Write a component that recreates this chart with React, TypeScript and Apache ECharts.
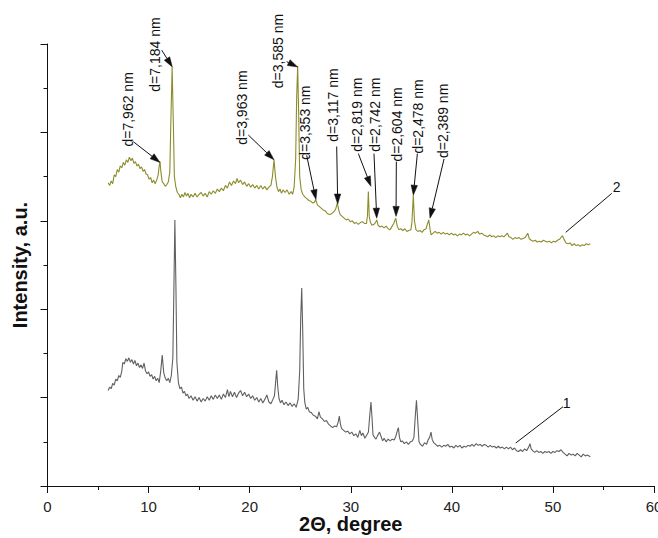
import React, { useEffect, useRef } from "react";
import * as echarts from "echarts";

// 2θ (degree), intensity (a.u.) — sample 1 (gray)
const curve1: [number, number][] = [
  [6.0, 1.08], [6.15, 1.12], [6.3, 1.1], [6.45, 1.16], [6.6, 1.14], [6.75, 1.21], [6.9, 1.19], [7.05, 1.25],
  [7.2, 1.23], [7.35, 1.3], [7.45, 1.4], [7.6, 1.38], [7.75, 1.44], [7.9, 1.41], [8.05, 1.45], [8.2, 1.4],
  [8.35, 1.43], [8.5, 1.38], [8.65, 1.42], [8.8, 1.36], [8.95, 1.39], [9.1, 1.34], [9.25, 1.37], [9.4, 1.33],
  [9.55, 1.39], [9.7, 1.3], [9.85, 1.27], [10.0, 1.29], [10.15, 1.24], [10.3, 1.26], [10.45, 1.21], [10.6, 1.24],
  [10.75, 1.19], [10.9, 1.22], [11.05, 1.17], [11.2, 1.3], [11.35, 1.48], [11.5, 1.28], [11.65, 1.22], [11.8, 1.19],
  [11.95, 1.22], [12.1, 1.17], [12.25, 1.25], [12.4, 1.45], [12.5, 2.2], [12.6, 3.01], [12.7, 2.3], [12.8, 1.4],
  [12.95, 1.17], [13.1, 1.1], [13.25, 1.12], [13.4, 1.05], [13.55, 1.07], [13.7, 1.02], [13.85, 1.04], [14.0, 0.99],
  [14.2, 1.02], [14.4, 0.97], [14.6, 1.01], [14.8, 0.96], [15.0, 1.0], [15.2, 0.95], [15.4, 0.99], [15.6, 0.96],
  [15.8, 1.01], [16.0, 0.97], [16.2, 1.02], [16.4, 0.98], [16.6, 1.03], [16.8, 0.99], [17.0, 1.03], [17.2, 0.98],
  [17.4, 1.04], [17.6, 1.0], [17.8, 1.09], [17.95, 1.01], [18.1, 1.07], [18.3, 1.01], [18.5, 1.06], [18.7, 1.0],
  [18.9, 1.05], [19.1, 1.08], [19.3, 1.02], [19.5, 1.06], [19.7, 1.01], [19.9, 1.04], [20.1, 0.99], [20.3, 1.02],
  [20.5, 0.97], [20.7, 1.0], [20.9, 0.95], [21.1, 0.99], [21.3, 0.94], [21.5, 0.98], [21.7, 1.03], [21.9, 0.95],
  [22.1, 0.93], [22.3, 0.98], [22.45, 1.02], [22.55, 1.15], [22.67, 1.31], [22.78, 1.12], [22.9, 0.99], [23.05, 0.94],
  [23.2, 0.97], [23.4, 0.92], [23.6, 0.95], [23.8, 0.91], [24.0, 0.94], [24.2, 0.9], [24.4, 0.93], [24.6, 0.89],
  [24.8, 0.98], [24.95, 1.3], [25.05, 1.9], [25.15, 2.24], [25.25, 1.75], [25.35, 1.1], [25.45, 0.95], [25.6, 0.87],
  [25.75, 0.89], [25.9, 0.84], [26.1, 0.83], [26.3, 0.8], [26.5, 0.79], [26.7, 0.76], [26.85, 0.84], [27.0, 0.78],
  [27.2, 0.76], [27.4, 0.73], [27.6, 0.74], [27.8, 0.7], [28.0, 0.68], [28.2, 0.66], [28.4, 0.68], [28.6, 0.67],
  [28.75, 0.72], [28.87, 0.79], [28.98, 0.7], [29.1, 0.65], [29.3, 0.63], [29.5, 0.61], [29.7, 0.62], [29.9, 0.59],
  [30.1, 0.61], [30.3, 0.57], [30.5, 0.59], [30.7, 0.55], [30.9, 0.63], [31.05, 0.57], [31.2, 0.6], [31.4, 0.54],
  [31.6, 0.58], [31.75, 0.61], [31.88, 0.8], [32.0, 0.95], [32.1, 0.78], [32.2, 0.58], [32.35, 0.55], [32.5, 0.53],
  [32.65, 0.57], [32.85, 0.61], [33.0, 0.56], [33.15, 0.51], [33.3, 0.54], [33.5, 0.5], [33.7, 0.53], [33.9, 0.51],
  [34.1, 0.53], [34.3, 0.52], [34.45, 0.56], [34.6, 0.62], [34.71, 0.66], [34.82, 0.55], [34.95, 0.5], [35.1, 0.51],
  [35.3, 0.48], [35.5, 0.5], [35.7, 0.47], [35.9, 0.5], [36.1, 0.51], [36.25, 0.55], [36.38, 0.78], [36.5, 0.97],
  [36.62, 0.75], [36.75, 0.5], [36.9, 0.47], [37.1, 0.45], [37.3, 0.49], [37.5, 0.47], [37.65, 0.52], [37.8, 0.55],
  [37.94, 0.61], [38.05, 0.53], [38.2, 0.49], [38.4, 0.47], [38.6, 0.45], [38.8, 0.46], [39.0, 0.44], [39.2, 0.46],
  [39.4, 0.45], [39.6, 0.47], [39.8, 0.44], [40.0, 0.45], [40.2, 0.43], [40.4, 0.46], [40.6, 0.44], [40.8, 0.46],
  [41.0, 0.43], [41.2, 0.45], [41.4, 0.44], [41.6, 0.46], [41.8, 0.45], [42.0, 0.47], [42.2, 0.45], [42.4, 0.48],
  [42.6, 0.46], [42.8, 0.47], [43.0, 0.45], [43.2, 0.47], [43.4, 0.46], [43.6, 0.44], [43.8, 0.46], [44.0, 0.44],
  [44.2, 0.45], [44.4, 0.43], [44.6, 0.45], [44.8, 0.43], [45.0, 0.44], [45.2, 0.42], [45.4, 0.44], [45.6, 0.42],
  [45.8, 0.44], [46.0, 0.41], [46.2, 0.43], [46.4, 0.4], [46.6, 0.39], [46.8, 0.41], [47.0, 0.39], [47.2, 0.42],
  [47.4, 0.4], [47.6, 0.44], [47.73, 0.48], [47.85, 0.42], [48.0, 0.4], [48.2, 0.38], [48.4, 0.4], [48.6, 0.38],
  [48.8, 0.39], [49.0, 0.37], [49.2, 0.39], [49.4, 0.38], [49.6, 0.39], [49.8, 0.37], [50.0, 0.39], [50.2, 0.38],
  [50.4, 0.4], [50.6, 0.39], [50.8, 0.41], [51.0, 0.38], [51.2, 0.36], [51.4, 0.34], [51.6, 0.37], [51.8, 0.35],
  [52.0, 0.36], [52.2, 0.34], [52.4, 0.37], [52.6, 0.35], [52.8, 0.33], [53.0, 0.36], [53.2, 0.34], [53.4, 0.35],
  [53.7, 0.33],
];

// 2θ (degree), intensity (a.u.) — sample 2 (olive)
const curve2: [number, number][] = [
  [6.0, 3.43], [6.15, 3.4], [6.3, 3.45], [6.45, 3.42], [6.6, 3.52], [6.75, 3.5], [6.9, 3.58], [7.05, 3.55],
  [7.2, 3.62], [7.35, 3.6], [7.5, 3.66], [7.65, 3.63], [7.8, 3.69], [7.95, 3.66], [8.1, 3.72], [8.25, 3.68],
  [8.4, 3.71], [8.55, 3.65], [8.7, 3.67], [8.85, 3.62], [9.0, 3.64], [9.15, 3.59], [9.3, 3.61], [9.45, 3.56],
  [9.6, 3.58], [9.75, 3.53], [9.9, 3.52], [10.05, 3.47], [10.2, 3.49], [10.35, 3.43], [10.5, 3.46], [10.65, 3.42],
  [10.8, 3.46], [10.95, 3.52], [11.05, 3.62], [11.13, 3.67], [11.22, 3.55], [11.35, 3.44], [11.5, 3.42], [11.65, 3.39],
  [11.8, 3.41], [11.95, 3.44], [12.1, 3.55], [12.2, 4.1], [12.33, 4.74], [12.45, 4.1], [12.55, 3.5], [12.7, 3.38],
  [12.85, 3.32], [13.0, 3.3], [13.15, 3.26], [13.3, 3.3], [13.45, 3.27], [13.6, 3.32], [13.75, 3.28], [13.9, 3.31],
  [14.05, 3.26], [14.2, 3.3], [14.4, 3.27], [14.6, 3.31], [14.8, 3.27], [15.0, 3.3], [15.2, 3.32], [15.4, 3.28],
  [15.6, 3.31], [15.8, 3.27], [16.0, 3.33], [16.2, 3.3], [16.4, 3.34], [16.6, 3.31], [16.8, 3.36], [17.0, 3.33],
  [17.2, 3.37], [17.4, 3.34], [17.6, 3.4], [17.8, 3.37], [18.0, 3.44], [18.2, 3.4], [18.4, 3.45], [18.6, 3.42],
  [18.75, 3.48], [18.9, 3.43], [19.1, 3.46], [19.3, 3.41], [19.5, 3.44], [19.7, 3.39], [19.9, 3.42], [20.1, 3.38],
  [20.3, 3.41], [20.5, 3.37], [20.7, 3.4], [20.9, 3.36], [21.1, 3.4], [21.3, 3.36], [21.5, 3.39], [21.7, 3.35],
  [21.9, 3.38], [22.1, 3.4], [22.25, 3.5], [22.41, 3.69], [22.55, 3.5], [22.7, 3.38], [22.85, 3.33], [23.0, 3.36],
  [23.15, 3.31], [23.3, 3.35], [23.5, 3.32], [23.7, 3.35], [23.9, 3.3], [24.1, 3.33], [24.25, 3.3], [24.4, 3.38],
  [24.55, 3.7], [24.65, 4.4], [24.75, 4.75], [24.85, 4.2], [24.95, 3.5], [25.1, 3.35], [25.25, 3.3], [25.45, 3.27],
  [25.65, 3.25], [25.85, 3.23], [26.05, 3.22], [26.25, 3.2], [26.4, 3.21], [26.53, 3.24], [26.7, 3.18], [26.9, 3.16],
  [27.1, 3.14], [27.3, 3.12], [27.5, 3.11], [27.7, 3.08], [27.9, 3.07], [28.1, 3.08], [28.3, 3.1], [28.5, 3.13],
  [28.67, 3.2], [28.82, 3.12], [28.95, 3.07], [29.15, 3.05], [29.35, 3.03], [29.55, 3.01], [29.75, 3.02], [29.95, 2.99],
  [30.15, 3.0], [30.35, 2.97], [30.55, 2.98], [30.75, 2.96], [30.95, 2.98], [31.15, 2.99], [31.35, 2.97], [31.55, 2.97],
  [31.65, 3.05], [31.74, 3.33], [31.83, 3.05], [31.95, 2.98], [32.1, 2.95], [32.3, 2.96], [32.45, 2.98], [32.57, 3.01],
  [32.7, 2.95], [32.9, 2.93], [33.1, 2.94], [33.3, 2.92], [33.5, 2.94], [33.7, 2.91], [33.9, 2.9], [34.1, 2.94],
  [34.25, 2.97], [34.45, 3.03], [34.6, 2.94], [34.75, 2.9], [34.95, 2.91], [35.15, 2.89], [35.35, 2.91], [35.55, 2.88],
  [35.75, 2.89], [35.95, 2.9], [36.05, 2.98], [36.19, 3.29], [36.3, 3.0], [36.45, 2.9], [36.65, 2.88], [36.85, 2.89],
  [37.05, 2.87], [37.25, 2.9], [37.45, 2.91], [37.6, 2.97], [37.72, 3.01], [37.85, 2.9], [37.95, 2.84], [38.15, 2.86],
  [38.35, 2.88], [38.55, 2.86], [38.75, 2.87], [38.95, 2.85], [39.15, 2.87], [39.35, 2.85], [39.55, 2.86], [39.75, 2.84],
  [39.95, 2.86], [40.15, 2.84], [40.35, 2.85], [40.55, 2.83], [40.75, 2.85], [40.95, 2.84], [41.15, 2.86], [41.35, 2.84],
  [41.55, 2.85], [41.75, 2.83], [41.95, 2.85], [42.15, 2.87], [42.35, 2.86], [42.55, 2.88], [42.75, 2.85], [42.95, 2.86],
  [43.15, 2.84], [43.35, 2.83], [43.55, 2.82], [43.75, 2.84], [43.95, 2.82], [44.15, 2.83], [44.35, 2.81], [44.55, 2.83],
  [44.75, 2.82], [44.95, 2.83], [45.15, 2.82], [45.35, 2.84], [45.5, 2.86], [45.65, 2.82], [45.85, 2.81], [46.05, 2.79],
  [46.25, 2.81], [46.45, 2.8], [46.65, 2.81], [46.85, 2.79], [47.05, 2.8], [47.25, 2.81], [47.51, 2.86], [47.65, 2.8],
  [47.85, 2.78], [48.05, 2.77], [48.25, 2.78], [48.45, 2.76], [48.65, 2.77], [48.85, 2.76], [49.05, 2.78], [49.25, 2.77],
  [49.45, 2.76], [49.65, 2.77], [49.85, 2.75], [50.05, 2.77], [50.25, 2.76], [50.45, 2.78], [50.65, 2.79], [50.85, 2.82],
  [50.95, 2.83], [51.1, 2.79], [51.3, 2.75], [51.5, 2.74], [51.7, 2.75], [51.9, 2.72], [52.1, 2.74], [52.3, 2.72],
  [52.5, 2.73], [52.7, 2.71], [52.9, 2.73], [53.1, 2.72], [53.3, 2.74], [53.5, 2.73], [53.7, 2.74],
];

// Peak annotations (interplanar spacing) for sample 2
const peakLabels = [
  "d=7,962 nm", "d=7,184 nm", "d=3,963 nm", "d=3,585 nm", "d=3,353 nm", "d=3,117 nm",
  "d=2,819 nm", "d=2,742 nm", "d=2,604 nm", "d=2,478 nm", "d=2,389 nm",
];
// lower end of each rotated label, in data coordinates
const labelAnchors: [number, number][] = [
  [7.93, 3.84], [10.63, 4.46], [19.21, 3.86], [22.83, 4.5], [25.48, 3.69], [28.27, 3.895],
  [30.59, 3.78], [32.4, 3.78], [34.55, 3.67], [36.68, 3.76], [39.16, 3.71],
];
const arrowStarts: [number, number][] = [
  [8.49, 3.895], [11.3, 4.93], [19.87, 3.97], [23.66, 4.8], [25.64, 3.74], [28.61, 3.84],
  [30.75, 3.76], [32.3, 3.76], [34.51, 3.67], [36.59, 3.76], [39.23, 3.7],
];
const arrowEnds: [number, number][] = [
  [11.13, 3.66], [12.35, 4.74], [22.41, 3.69], [24.75, 4.74], [26.56, 3.24], [28.71, 3.19],
  [32.0, 3.39], [32.57, 3.03], [34.48, 3.05], [36.19, 3.29], [37.84, 3.03],
];

// curve numbers with leader lines
const curveNames = ["1", "2"];
const curveNamePos: [number, number][] = [[51.35, 0.94], [56.31, 3.386]];
const leaderStarts: [number, number][] = [[46.32, 0.486], [51.27, 2.87]];
const leaderEnds: [number, number][] = [[51.0, 0.897], [55.82, 3.31]];

const FONT = "'Liberation Sans', Arial, Helvetica, sans-serif";

export default function App() {
  const ref = useRef<HTMLDivElement>(null);

  useEffect(() => {
    document.documentElement.style.overflow = "hidden";
    document.body.style.margin = "0";
    if (!ref.current) return;
    const chart = echarts.init(ref.current, undefined, { renderer: "svg" });
    chart.setOption({
      animation: false,
      backgroundColor: "#ffffff",
      grid: { left: 47.5, right: 4, top: 44, bottom: 52, containLabel: false, outerBoundsMode: "none" },
      xAxis: {
        type: "value",
        min: 0,
        max: 60,
        interval: 10,
        name: "2Θ, degree",
        nameLocation: "middle",
        nameGap: 28,
        nameMoveOverlap: false,
        nameTextStyle: { fontFamily: FONT, fontWeight: "bold", fontSize: 20, color: "#111" },
        axisLine: { onZero: false, lineStyle: { color: "#111", width: 1 } },
        axisTick: { show: true, inside: false, length: 7, lineStyle: { color: "#111" } },
        minorTick: { show: true, splitNumber: 2, length: 4, lineStyle: { color: "#111" } },
        axisLabel: { fontFamily: FONT, fontSize: 15, color: "#222", margin: 13, showMinLabel: true, showMaxLabel: true },
        splitLine: { show: false },
      },
      yAxis: {
        type: "value",
        min: 0,
        max: 5,
        interval: 1,
        name: "Intensity, a.u.",
        nameLocation: "middle",
        nameGap: 18,
        nameMoveOverlap: false,
        nameTextStyle: { fontFamily: FONT, fontWeight: "bold", fontSize: 20, color: "#111" },
        axisLine: { show: true, onZero: false, lineStyle: { color: "#111", width: 1 } },
        axisTick: { show: true, inside: false, length: 7, lineStyle: { color: "#111" } },
        minorTick: { show: true, splitNumber: 2, length: 4, lineStyle: { color: "#111" } },
        axisLabel: { show: false },
        splitLine: { show: false },
      },
      series: [
        {
          type: "line",
          name: "1",
          data: curve1,
          showSymbol: false,
          lineStyle: { color: "#606060", width: 1.1 },
          itemStyle: { color: "#606060" },
        },
        {
          type: "line",
          name: "2",
          data: curve2,
          showSymbol: false,
          lineStyle: { color: "#8c8c2c", width: 1.1 },
          itemStyle: { color: "#8c8c2c" },
        },
      ],
    });

    const toPx = (p: [number, number]) => chart.convertToPixel({ gridIndex: 0 }, p) as number[];
    const elements: any[] = [];
    peakLabels.forEach((text, i) => {
      const a = toPx(arrowStarts[i]);
      const b = toPx(arrowEnds[i]);
      const dx = b[0] - a[0];
      const dy = b[1] - a[1];
      const len = Math.hypot(dx, dy) || 1;
      const ux = dx / len;
      const uy = dy / len;
      const hl = 10;
      const hw = 3.2;
      const base = [b[0] - ux * hl, b[1] - uy * hl];
      elements.push({
        type: "line",
        shape: { x1: a[0], y1: a[1], x2: base[0], y2: base[1] },
        style: { stroke: "#111", lineWidth: 1 },
        z: 10,
      });
      elements.push({
        type: "polygon",
        shape: {
          points: [
            [b[0], b[1]],
            [base[0] - uy * hw, base[1] + ux * hw],
            [base[0] + uy * hw, base[1] - ux * hw],
          ],
        },
        style: { fill: "#111", stroke: "#111", lineWidth: 0.5 },
        z: 10,
      });
      const t = toPx(labelAnchors[i]);
      elements.push({
        type: "text",
        x: t[0],
        y: t[1],
        rotation: Math.PI / 2,
        style: {
          text,
          fontFamily: FONT,
          fontSize: 14,
          fill: "#111",
          align: "left",
          verticalAlign: "middle",
        },
        z: 10,
      });
    });
    curveNames.forEach((text, i) => {
      const a = toPx(leaderStarts[i]);
      const b = toPx(leaderEnds[i]);
      elements.push({
        type: "line",
        shape: { x1: a[0], y1: a[1], x2: b[0], y2: b[1] },
        style: { stroke: "#111", lineWidth: 1 },
        z: 10,
      });
      const t = toPx(curveNamePos[i]);
      elements.push({
        type: "text",
        x: t[0],
        y: t[1],
        style: { text, fontFamily: FONT, fontSize: 14, fill: "#111", align: "center", verticalAlign: "middle" },
        z: 10,
      });
    });
    chart.setOption({ graphic: { elements } });

    return () => chart.dispose();
  }, []);

  return (
    <div
      ref={ref}
      style={{ position: "absolute", left: 0, top: 0, width: 658, height: 538, background: "#fff", overflow: "hidden" }}
    />
  );
}
